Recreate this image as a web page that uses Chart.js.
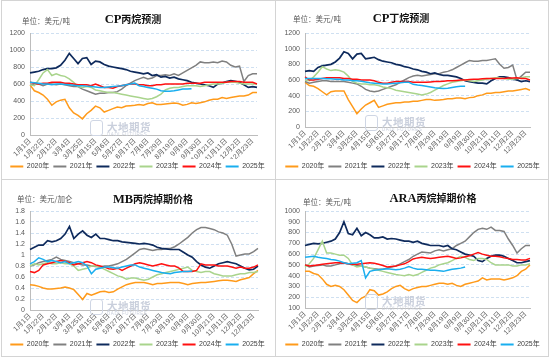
<!DOCTYPE html>
<html><head><meta charset="utf-8">
<script src="https://cdn.jsdelivr.net/npm/chart.js@4.4.1/dist/chart.umd.min.js"></script>
<style>
html,body{margin:0;padding:0;background:#fff;}
#wrap{position:relative;width:550px;height:359px;overflow:hidden;background:#fff;}
canvas{position:absolute;}
.line{position:absolute;background:#d4d4d4;z-index:5;}
.title{position:absolute;white-space:nowrap;transform:translate(-50%,-50%);font-weight:bold;color:#111;z-index:3;line-height:1;}
.title .l{font-family:'Liberation Serif',serif;font-size:12.5px;}
.title .c{font-family:'Noto Sans CJK SC',sans-serif;font-size:10px;}
.unit{position:absolute;font-family:'Noto Sans CJK SC',sans-serif;font-size:7.5px;color:#595959;white-space:nowrap;transform:translateY(-50%);z-index:3;line-height:1;}
.wm{position:absolute;z-index:0;color:#c9cfdc;white-space:nowrap;}
.wm .logo{position:absolute;left:0;top:0;width:11px;height:14px;border:1.5px solid #cfd6e4;border-radius:3px;}
.wm .cn{position:absolute;left:17px;top:-1px;font-family:'Noto Sans CJK SC',sans-serif;font-size:10.5px;font-weight:bold;letter-spacing:0.5px;}
.wm .en{position:absolute;left:17px;top:12px;font-family:'Liberation Sans',sans-serif;font-size:4.5px;letter-spacing:0.6px;}
</style>
</head><body>
<div id="wrap">
  <canvas id="c1"></canvas><canvas id="c2"></canvas><canvas id="c3"></canvas><canvas id="c4"></canvas>
</div>
<script>
// ---- categories (weekly, leap-year calendar) ----
const weekLabels = ['1月1日','1月8日','1月15日','1月22日','1月29日','2月5日','2月12日','2月19日','2月26日','3月4日','3月11日','3月18日','3月25日','4月1日','4月8日','4月15日','4月22日','4月29日','5月6日','5月13日','5月20日','5月27日','6月3日','6月10日','6月17日','6月24日','7月1日','7月8日','7月15日','7月22日','7月29日','8月5日','8月12日','8月19日','8月26日','9月2日','9月9日','9月16日','9月23日','9月30日','10月7日','10月14日','10月21日','10月28日','11月4日','11月11日','11月18日','11月25日','12月2日','12月9日','12月16日','12月23日','12月30日'];
const seriesNames = ['2020年','2021年','2022年','2023年','2024年','2025年'];
const seriesColors = ['#FF9A1A','#808080','#0E2A5C','#A9D48C','#FF1010','#19AEEF'];

// ---- CP丙烷 (美元/吨) ----
const cpPropane2020 = [590,520,500,470,420,350,390,410,420,320,260,230,190,250,290,340,320,270,290,310,330,320,340,345,350,360,350,370,380,360,360,365,370,375,370,350,360,380,370,380,390,410,420,420,440,430,440,450,460,460,470,500,500];
const cpPropane2021 = [590,600,600,580,600,600,590,600,590,580,570,570,540,520,500,480,490,490,500,500,510,540,580,610,640,660,680,660,670,700,700,710,700,720,700,730,760,790,820,860,850,850,860,850,870,860,820,800,810,630,700,720,720];
const cpPropane2022 = [730,740,750,770,780,780,790,820,880,960,900,840,900,910,830,870,860,830,810,800,790,780,770,750,740,730,720,730,700,710,680,690,670,680,660,650,640,620,610,600,590,580,560,600,610,630,640,630,620,590,560,570,560];
const cpPropane2023 = [590,580,650,730,770,700,720,700,690,660,620,570,560,570,560,530,520,510,500,500,490,480,470,460,450,440,430,420,430,450,480,530,550,560,560,570,580,580,580,570,580,590,600,600,610,620,620,620,610,600,600,600,600];
const cpPropane2024 = [620,610,600,610,610,620,620,620,610,610,600,590,590,590,580,600,580,560,560,550,570,580,590,600,600,590,590,580,580,590,590,600,600,600,600,600,610,610,610,610,620,620,620,620,620,620,630,630,630,620,620,620,600];
const cpPropane2025 = [620,615,610,600,600,590,600,600,595,590,585,580,580,575,570,565,560,560,565,570,575,580,590,600,610,580,570,560,550,540,520,515,515,520,530,540,540,545];

// ---- CP丁烷 (美元/吨) ----
const cpButane2020 = [570,530,520,490,450,410,450,460,460,460,350,260,170,230,280,310,340,250,270,290,300,310,310,320,320,330,330,340,350,350,340,345,350,360,360,370,370,360,375,380,400,410,430,430,440,440,450,460,460,470,480,490,470];
const cpButane2021 = [580,560,570,580,590,590,580,580,580,580,570,560,550,520,480,460,450,460,480,500,520,540,570,600,630,650,660,650,660,670,680,680,700,710,730,760,790,820,850,840,840,850,850,860,870,800,750,760,790,600,650,700,700];
const cpButane2022 = [710,720,710,760,780,790,800,830,880,960,940,870,930,940,870,880,890,860,840,830,820,800,790,770,760,740,730,710,700,680,690,670,660,660,650,640,620,590,580,570,560,560,550,590,620,640,640,630,610,600,580,590,580];
const cpButane2023 = [600,590,640,700,770,740,720,730,720,700,650,580,560,550,550,540,540,530,510,500,490,470,460,450,440,430,420,410,420,440,470,500,530,550,570,580,590,600,590,580,590,600,610,620,630,630,620,610,610,620,630,640,640];
const cpButane2024 = [640,600,600,610,620,630,630,630,630,620,620,610,610,600,600,600,590,570,560,560,570,580,580,580,580,570,570,570,570,575,580,580,585,590,590,595,600,600,605,610,610,615,620,620,620,620,620,625,625,630,620,620,600];
const cpButane2025 = [620,620,620,620,620,615,615,610,610,600,600,590,590,585,575,565,560,555,550,550,555,560,565,570,570,545,535,530,520,510,500,495,490,495,505,515,520,520];

// ---- MB丙烷掉期 (美元/加仑) ----
const mbPropane2020 = [0.46,0.45,0.43,0.40,0.38,0.38,0.39,0.40,0.42,0.40,0.37,0.28,0.19,0.30,0.27,0.30,0.33,0.34,0.32,0.33,0.38,0.42,0.46,0.48,0.50,0.50,0.50,0.48,0.46,0.48,0.48,0.49,0.50,0.50,0.50,0.48,0.46,0.48,0.49,0.50,0.50,0.51,0.52,0.53,0.54,0.54,0.53,0.52,0.55,0.57,0.59,0.66,0.72];
const mbPropane2021 = [0.80,0.82,0.86,0.88,0.90,0.92,0.96,0.92,0.90,0.88,0.86,0.84,0.82,0.82,0.80,0.79,0.78,0.80,0.80,0.82,0.84,0.88,0.92,0.98,1.04,1.10,1.12,1.10,1.08,1.10,1.10,1.12,1.12,1.15,1.20,1.26,1.32,1.40,1.46,1.50,1.50,1.48,1.46,1.42,1.40,1.36,1.20,0.98,1.00,1.02,1.02,1.06,1.12];
const mbPropane2022 = [1.10,1.14,1.18,1.18,1.26,1.24,1.26,1.30,1.38,1.52,1.30,1.38,1.44,1.36,1.32,1.38,1.30,1.30,1.28,1.26,1.26,1.24,1.23,1.22,1.21,1.20,1.21,1.20,1.18,1.14,1.12,1.11,1.10,1.10,1.10,1.05,1.00,0.96,0.88,0.82,0.78,0.76,0.80,0.84,0.86,0.88,0.86,0.84,0.80,0.76,0.73,0.74,0.80];
const mbPropane2023 = [0.80,0.84,0.82,0.84,0.86,0.84,0.84,0.86,0.84,0.84,0.80,0.72,0.74,0.76,0.80,0.80,0.78,0.74,0.70,0.66,0.62,0.60,0.56,0.58,0.58,0.56,0.54,0.56,0.60,0.64,0.66,0.68,0.70,0.72,0.74,0.76,0.78,0.72,0.70,0.68,0.70,0.70,0.66,0.64,0.62,0.62,0.62,0.64,0.66,0.66,0.68,0.68,0.70];
const mbPropane2024 = [0.70,0.68,0.72,0.82,0.84,0.86,0.88,0.90,0.88,0.86,0.82,0.84,0.86,0.88,0.86,0.82,0.80,0.78,0.75,0.74,0.76,0.72,0.76,0.80,0.84,0.86,0.84,0.82,0.80,0.82,0.84,0.82,0.80,0.80,0.76,0.70,0.70,0.70,0.72,0.84,0.82,0.82,0.82,0.80,0.80,0.80,0.78,0.76,0.78,0.76,0.76,0.78,0.82];
const mbPropane2025 = [0.84,0.88,0.95,0.92,0.88,0.90,0.88,0.86,0.88,0.84,0.86,0.88,0.86,0.80,0.66,0.74,0.76,0.78,0.78,0.77,0.76,0.78,0.80,0.82,0.82,0.78,0.76,0.74,0.72,0.70,0.68,0.67,0.66,0.68,0.69,0.70,0.70,0.71];

// ---- ARA丙烷掉期 (美元/吨) ----
const araPropane2020 = [440,440,420,410,370,320,300,310,300,270,220,170,150,190,210,270,260,220,230,250,280,300,310,280,260,280,290,300,300,310,320,330,330,320,330,310,300,320,330,340,350,380,360,370,370,370,360,370,380,400,440,460,500];
const araPropane2021 = [500,480,490,495,500,490,490,500,510,520,510,500,495,490,480,470,465,460,460,470,480,490,510,530,550,580,600,620,615,610,630,640,630,640,650,680,700,720,760,800,830,840,830,850,820,820,810,740,680,610,650,680,680];
const araPropane2022 = [680,690,700,695,700,710,720,740,800,900,790,780,840,770,800,780,750,750,760,740,745,740,730,720,720,710,720,700,690,680,680,680,670,680,650,640,620,600,590,580,540,530,560,580,590,590,580,560,540,520,520,530,540];
const araPropane2023 = [480,510,560,640,720,610,610,600,590,590,560,500,480,490,480,470,460,450,440,430,420,410,405,400,410,400,410,430,450,470,480,500,510,520,540,560,580,570,550,540,560,560,550,520,500,500,500,500,490,490,500,500,510];
const araPropane2024 = [500,490,495,500,505,510,515,520,520,515,510,505,505,510,515,520,515,505,495,480,485,490,500,510,530,555,565,570,565,560,565,570,575,580,570,560,565,575,585,600,615,600,590,580,580,575,565,560,550,550,545,545,560];
const araPropane2025 = [570,575,580,570,565,560,550,545,535,520,510,515,520,540,380,440,450,455,460,465,460,455,460,470,485,470,460,460,455,450,450,445,440,450,460,465,470,480];

// ---- y axes ----
const yCp = {min:0, max:1200, step:200};
const yMb = {min:0, max:1.8, step:0.2};
const yAra = {min:100, max:1000, step:100};

const FONT = "'Liberation Sans','Noto Sans CJK SC',sans-serif";
const wrap = document.getElementById('wrap');

function addHtml(cls, html, x, y) {
  const d = document.createElement('div');
  d.className = cls; d.innerHTML = html;
  d.style.left = x + 'px'; d.style.top = y + 'px';
  wrap.appendChild(d);
}

function makePanel(id, series, yo, g) {
  const cv = document.getElementById(id);
  cv.width = g.w; cv.height = g.h;
  cv.style.left = g.x + 'px'; cv.style.top = g.y + 'px';
  cv.style.width = g.w + 'px'; cv.style.height = g.h + 'px';
  const datasets = series.map((d, i) => ({
    label: seriesNames[i], data: d, yAxisID: 'y',
    borderColor: seriesColors[i], backgroundColor: seriesColors[i],
    borderWidth: i === 2 ? 1.7 : 1.5, pointRadius: 0, tension: 0, fill: false,
    order: 5 - i
  }));
  new Chart(cv, {
    type: 'line',
    data: {labels: weekLabels, datasets},
    options: {
      responsive: false, animation: false,
      layout: {padding: {left: 0, right: 0, top: g.top, bottom: 0}},
      plugins: {
        tooltip: {enabled: false},
        legend: {
          position: 'bottom',
          labels: {
            boxWidth: 13, boxHeight: 2, padding: 4, color: '#404040',
            font: {size: 7, family: FONT},
            sort: (a, b) => a.datasetIndex - b.datasetIndex,
            generateLabels: (chart) => Chart.defaults.plugins.legend.labels.generateLabels(chart).map(l => Object.assign(l, {lineWidth: 0}))
          }
        }
      },
      scales: {
        x: {
          grid: {display: false, drawTicks: false},
          border: {display: true, color: '#bdbdbd', width: 1},
          ticks: {
            autoSkip: false, minRotation: 45, maxRotation: 45, padding: 2,
            color: '#595959', font: {size: 7, family: FONT},
            callback: (v, i) => (i % 3 === 0 ? weekLabels[i] : '')
          },
          afterFit: (s) => { s.height = g.xh; }
        },
        y: {
          position: 'left',
          min: yo.min, max: yo.max,
          grid: {color: '#cfe0f1', lineWidth: 1, drawTicks: false},
          border: {display: true, color: '#bdbdbd', width: 1, dash: [3, 2]},
          ticks: {
            autoSkip: false, stepSize: yo.step, padding: 5, color: '#595959',
            font: {size: 7, family: FONT},
            callback: (v) => String(Number(Number(v).toFixed(1)))
          },
          afterFit: (s) => { s.width = g.left; }
        },
        spacer: {
          type: 'linear', position: 'right', min: 0, max: 1,
          grid: {display: false, drawTicks: false},
          border: {display: false},
          ticks: {display: false},
          afterFit: (s) => { s.width = g.w - g.right; }
        }
      }
    }
  });
}

const panels = [
  {id:'c1', s:[cpPropane2020,cpPropane2021,cpPropane2022,cpPropane2023,cpPropane2024,cpPropane2025], y:yCp,
   g:{x:0,y:0,w:275,h:180,left:30,right:257,top:33,xh:24},
   title:'<span class="l">CP</span><span class="c">丙烷预测</span>', tx:133, ty:18, unit:'单位：美元/吨', ux:22, uy:21, wx:90, wy:120},
  {id:'c2', s:[cpButane2020,cpButane2021,cpButane2022,cpButane2023,cpButane2024,cpButane2025], y:yCp,
   g:{x:275,y:0,w:275,h:180,left:30,right:255,top:33,xh:32},
   title:'<span class="l">CP</span><span class="c">丁烷预测</span>', tx:401, ty:17, unit:'单位：美元/吨', ux:293, uy:19, wx:365, wy:115},
  {id:'c3', s:[mbPropane2020,mbPropane2021,mbPropane2022,mbPropane2023,mbPropane2024,mbPropane2025], y:yMb,
   g:{x:0,y:179,w:275,h:179,left:30,right:258,top:32,xh:27},
   title:'<span class="l">MB</span><span class="c">丙烷掉期价格</span>', tx:153, ty:198, unit:'单位：美元/加仑', ux:17, uy:199, wx:90, wy:299},
  {id:'c4', s:[araPropane2020,araPropane2021,araPropane2022,araPropane2023,araPropane2024,araPropane2025], y:yAra,
   g:{x:275,y:179,w:275,h:179,left:30,right:255,top:32,xh:29},
   title:'<span class="l">ARA</span><span class="c">丙烷掉期价格</span>', tx:433, ty:197, unit:'单位：美元/吨', ux:303, uy:202, wx:365, wy:294}
];

panels.forEach(p => {
  makePanel(p.id, p.s, p.y, p.g);
  addHtml('wm', '<div class="logo"></div><div class="cn">大地期货</div><div class="en">DADI FUTURES</div>', p.wx, p.wy);
  addHtml('title', p.title, p.tx, p.ty);
  addHtml('unit', p.unit, p.ux, p.uy);
});

// frame lines
function addLine(x, y, w, h) {
  const d = document.createElement('div'); d.className = 'line';
  d.style.left = x + 'px'; d.style.top = y + 'px'; d.style.width = w + 'px'; d.style.height = h + 'px';
  wrap.appendChild(d);
}
addLine(1, 0, 548, 1); addLine(1, 356, 548, 1); addLine(1, 0, 1, 357); addLine(548, 0, 1, 357);
addLine(275, 0, 1, 357); addLine(1, 179, 548, 1);
</script>
</body></html>
